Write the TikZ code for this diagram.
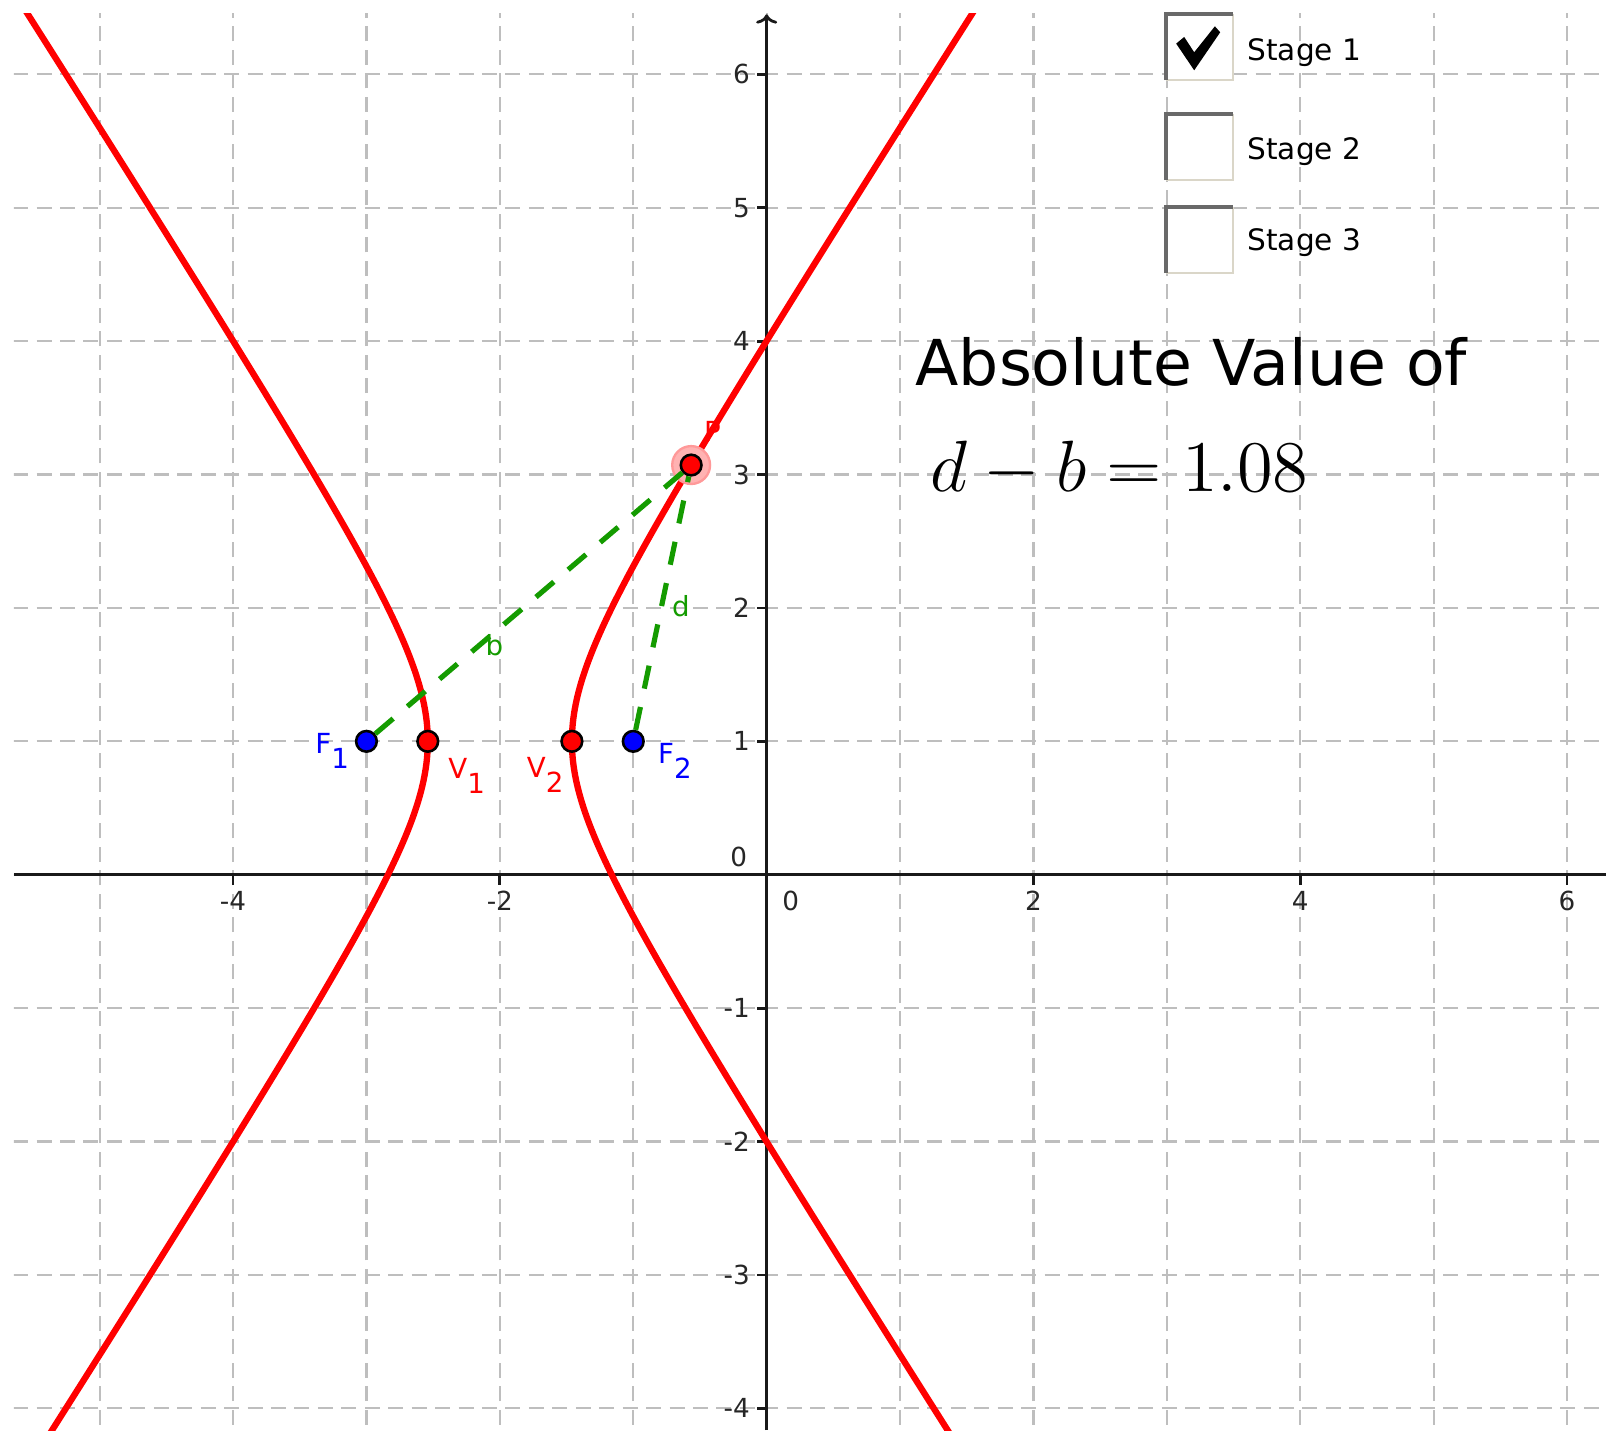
\RequirePackage{fix-cm}
\documentclass[tikz,border=0pt]{standalone}
\usepackage{fontspec}
\usepackage{graphicx}
\usetikzlibrary{arrows.meta, positioning}
\newfontfamily\ggbfont{DejaVu Sans}
\definecolor{conicred}{RGB}{255,0,0}
\definecolor{focusblue}{RGB}{0,0,255}
\definecolor{distgreen}{RGB}{20,155,0}
\definecolor{gridgray}{RGB}{190,190,190}
\definecolor{boxdark}{RGB}{105,105,105}
\definecolor{boxlight}{RGB}{218,214,200}
\newcommand{\ptsub}[2]{#1\raisebox{-3.2pt}{#2}}

\begin{document}
\begin{tikzpicture}

	\tikzset{
		gridline/.style={
				draw=gridgray, line width=0.45pt, dash pattern=on 3.2pt off 1.8pt
			},
		axisline/.style={
				draw=black!90, line width=0.6pt
			},
		ticklbl/.style={
				font=\ggbfont\fontsize{5.6}{6}\selectfont, text=black!85, inner sep=0pt
			},
		pt/.style={
				circle, draw=black, line width=0.55pt, inner sep=0pt, minimum size=0.155cm
			},
		focus/.style={pt, fill=focusblue},
		vertex/.style={pt, fill=conicred},
		ptlbl/.style={
				font=\ggbfont\fontsize{5.9}{7}\selectfont, inner sep=0pt, anchor=base west
			},
		conic/.style={draw=conicred, line width=1.35pt},
		dist/.style={draw=distgreen, line width=1.1pt, dash pattern=on 5pt off 4pt},
		chkbox/.style={
				fill=white, minimum width=0.487cm, minimum height=0.48cm, inner sep=0pt
			},
		stagelbl/.style={
				font=\ggbfont\fontsize{6.3}{7}\selectfont, inner sep=0pt, anchor=base west
			},
	}

	\useasboundingbox (-5.747,-4.215) rectangle (6.292,6.557);

	% grid and axes
	\begin{scope}
		\clip (-5.642,-4.163) rectangle (6.292,6.456);
		\draw[gridline] (-6,-5) grid (7,7);
	\end{scope}
	\draw[axisline] (-5.642,0) -- (6.292,0);
	\draw[axisline, -{To[length=2pt,width=4.5pt]}] (0,-4.163) -- (0,6.45);

	\foreach \x [count=\i] in {-4,-2,2,4,6}{
		\draw[axisline] (\x,0) -- (\x,-0.08);
		\node[ticklbl, anchor=north] (xl\i) at (\x,-0.116) {\x};
	}
	\foreach \y [count=\i] in {-4,-3,-2,-1,1,2,3,4,5,6}{
		\draw[axisline] (0,\y) -- (-0.075,\y);
		\node[ticklbl, anchor=east] (yl\i) at (-0.12,\y) {\y};
	}
	\node[ticklbl, anchor=south east] (ylo) at (-0.14,0.055) {0};
	\node[ticklbl, anchor=north] (xlo) at (0.18,-0.116) {0};

	\node[ptlbl, text=conicred] (plbl) at (-0.475,3.246) {P};

	% the two branches
	\pgfmathsetmacro{\ha}{0.54}
	\pgfmathsetmacro{\hb}{sqrt(1-\ha*\ha)}
	\begin{scope}
		\clip (-5.642,-4.163) rectangle (6.292,6.456);
		\draw[conic] plot[domain=-2.75:2.75, samples=150, smooth, variable=\t]
			({-2-\ha*cosh(\t)},{1+\hb*sinh(\t)});
		\draw[conic] plot[domain=-2.75:2.75, samples=150, smooth, variable=\t]
			({-2+\ha*cosh(\t)},{1+\hb*sinh(\t)});
	\end{scope}

	\fill[conicred!30] (-0.566,3.071) circle (0.142);
	\draw[conicred!40, line width=0.5pt] (-0.566,3.071) circle (0.142);

	\node[focus] (f1) at (-3,1) {};
	\node[focus] (f2) at (-1,1) {};
	\node[vertex] (v1) at (-2.54,1) {};
	\node[vertex] (v2) at (-1.46,1) {};
	\node[vertex] (p) at (-0.566,3.071) {};

	\draw[dist] (f1) -- (p);
	\draw[dist] (f2) -- (p);

	\node[ptlbl, text=focusblue] (f1lbl) at (-3.39,0.912) {\ptsub{F}{1}};
	\node[ptlbl, text=conicred] (v1lbl) at (-2.392,0.723) {\ptsub{V}{1}};
	\node[ptlbl, text=conicred] (v2lbl) at (-1.804,0.73) {\ptsub{V}{2}};
	\node[ptlbl, text=focusblue] (f2lbl) at (-0.82,0.835) {\ptsub{F}{2}};
	\node[ptlbl, text=distgreen] (blbl) at (-2.114,1.647) {b};
	\node[ptlbl, text=distgreen] (dlbl) at (-0.715,1.934) {d};

	% check boxes
	\foreach \yc [count=\i] in {6.204,5.4535,4.7575}{
		\node[chkbox] (cb\i) at (3.2465,\yc) {};
		\draw[boxlight, line width=0.5pt] (cb\i.north east) -- (cb\i.south east) -- (cb\i.south west);
		\draw[boxdark, line width=0.8pt] (cb\i.south west) -- (cb\i.north west) -- (cb\i.north east);
	}
	\fill[black] (3.07,6.23) -- (3.13,6.28) -- (3.205,6.165) -- (3.36,6.36)
		-- (3.40,6.315) -- (3.205,6.03) -- cycle;
	\foreach \yb [count=\i] in {6.107,5.363,4.678}{
		\node[stagelbl] (st\i) at (3.598,\yb) {Stage \i};
	}

	\node[anchor=base west, inner sep=0pt, font=\ggbfont\fontsize{13.5}{16}\selectfont]
		(title) at (1.109,3.671) {Absolute Value of};
	\node[anchor=base west, inner sep=0pt]
		(eqn) at (1.22,2.871) {\fontsize{15.5}{18}\selectfont$d-b=1.08$};

\end{tikzpicture}
\end{document}
